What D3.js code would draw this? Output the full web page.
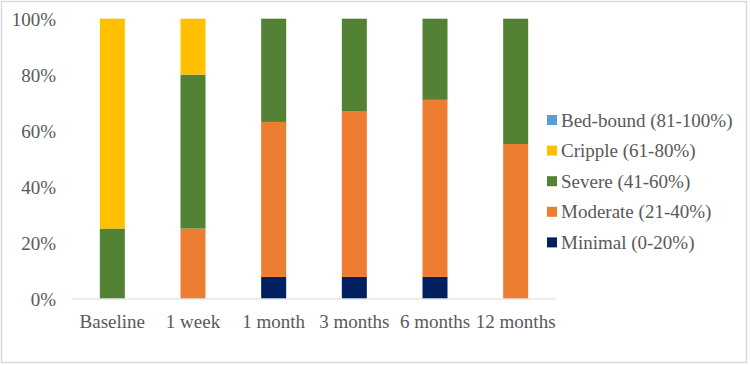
<!DOCTYPE html>
<html><head><meta charset="utf-8">
<script src="https://cdn.jsdelivr.net/npm/d3@7"></script>
<style>body{margin:0;background:#fff}svg{display:block}</style>
</head><body><svg id="c" width="750" height="365"></svg>
<script>
const categories = ["Baseline","1 week","1 month","3 months","6 months","12 months"];
const seriesNames = ["Minimal (0-20%)","Moderate (21-40%)","Severe (41-60%)","Cripple (61-80%)","Bed-bound (81-100%)"];
const minimal  = [0, 0, 7.7, 7.7, 7.7, 0];
const moderate = [0, 25, 55.4, 59.3, 63.3, 55.2];
const severe   = [25, 55, 36.9, 33.0, 29.0, 44.8];
const cripple  = [75, 20, 0, 0, 0, 0];
const bedbound = [0, 0, 0, 0, 0, 0];
const yTicks = [0,20,40,60,80,100];
const colors = ["#002060","#ED7D31","#548235","#FFC000","#5B9BD5"];

const seriesVals = [minimal, moderate, severe, cripple, bedbound];
const rows = categories.map((c,i)=>{const r={cat:c}; seriesNames.forEach((s,j)=>r[s]=seriesVals[j][i]); return r;});
const stack = d3.stack().keys(seriesNames)(rows);

const svg = d3.select("#c");
const font = "'Liberation Serif','Times New Roman','DejaVu Serif',serif";
svg.append("rect").attr("x",1.5).attr("y",1.5).attr("width",745).attr("height",361)
  .attr("fill","#fff").attr("stroke","#d9d9d9").attr("stroke-width",1.5);

const x = d3.scaleBand().domain(categories).range([72,556]).paddingInner(0.69).paddingOuter(0.345);
const y = d3.scaleLinear().domain([0,100]).range([298.5,18.7]);

svg.append("g").selectAll("g").data(stack).join("g").attr("fill",(d,i)=>colors[i])
  .selectAll("rect").data(d=>d).join("rect")
  .attr("x",d=>x(d.data.cat)).attr("width",x.bandwidth())
  .attr("y",d=>y(d[1])).attr("height",d=>Math.max(0,y(d[0])-y(d[1])));

svg.append("line").attr("x1",72).attr("x2",556).attr("y1",y(0)+0.5).attr("y2",y(0)+0.5)
  .attr("stroke","#d9d9d9").attr("stroke-width",1);

const yAxis = d3.axisLeft(y).tickValues(yTicks).tickFormat(d=>d+"%").tickSize(0).tickPadding(0);
const ga = svg.append("g").attr("transform","translate(56,0)").call(yAxis);
ga.select(".domain").remove();
ga.selectAll("text").attr("font-family",font).attr("font-size",19).attr("fill","#595959").attr("dy","0.35em");

const xAxis = d3.axisBottom(x).tickSize(0).tickPadding(0);
const gx = svg.append("g").attr("transform","translate(0,321)").call(xAxis);
gx.select(".domain").remove();
gx.selectAll("text").attr("font-family",font).attr("font-size",19).attr("fill","#595959").attr("dy","0.35em");

const legendOrder = seriesNames.slice().reverse();
const lg = svg.append("g");
legendOrder.forEach((s,i)=>{
  const cy = 120 + i*30.6;
  const ci = seriesNames.indexOf(s);
  lg.append("rect").attr("x",547).attr("y",cy-5).attr("width",10).attr("height",10).attr("fill",colors[ci]);
  lg.append("text").attr("x",561).attr("y",cy).attr("dy","0.35em").attr("font-family",font)
    .attr("font-size",19).attr("fill","#595959").text(s);
});
</script></body></html>
